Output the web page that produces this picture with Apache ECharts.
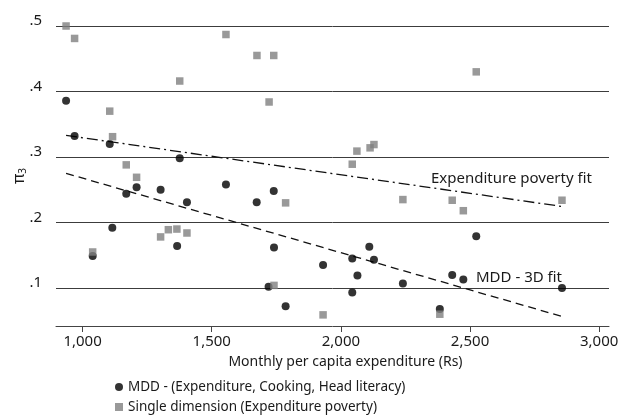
<!DOCTYPE html>
<html>
<head>
<meta charset="utf-8">
<script src="https://cdn.jsdelivr.net/npm/echarts@6/dist/echarts.min.js"></script>
<style>
html, body { margin: 0; padding: 0; background: #fff; }
#chart { width: 618px; height: 416px; }
</style>
</head>
<body>
<div id="chart"></div>
<script>
// MDD - (Expenditure, Cooking, Head literacy): black circles
var mddX = [936, 969, 1039, 1105, 1115, 1169, 1209, 1302, 1366, 1376, 1404, 1555, 1674, 1720, 1740,
            1741, 1786, 1931, 2044, 2044, 2064, 2110, 2128, 2240, 2383, 2431, 2474, 2524, 2856];
var mddY = [0.386, 0.332, 0.149, 0.320, 0.192, 0.244, 0.254, 0.250, 0.164, 0.298, 0.231, 0.258, 0.231, 0.102, 0.248,
            0.162, 0.072, 0.135, 0.145, 0.093, 0.119, 0.163, 0.143, 0.107, 0.068, 0.120, 0.113, 0.179, 0.100];

// Single dimension (Expenditure poverty): grey squares
var singleX = [936, 969, 1039, 1105, 1116, 1169, 1209, 1302, 1332, 1365, 1376, 1404, 1555, 1675, 1722,
               1740, 1741, 1786, 1931, 2044, 2062, 2113, 2128, 2240, 2383, 2431, 2474, 2524, 2856];
var singleY = [0.500, 0.481, 0.155, 0.370, 0.331, 0.288, 0.269, 0.178, 0.189, 0.190, 0.416, 0.184, 0.487, 0.455, 0.384,
               0.455, 0.104, 0.230, 0.059, 0.289, 0.309, 0.314, 0.319, 0.235, 0.060, 0.234, 0.218, 0.430, 0.234];

// fitted lines, end points
var mddFitX = [936, 2856];
var mddFitY = [0.275, 0.0566];
var expFitX = [936, 2856];
var expFitY = [0.333, 0.2245];

var xTicks = [1000, 1500, 2000, 2500, 3000];
var yTicks = [0.1, 0.2, 0.3, 0.4, 0.5];

function pairs(xs, ys) {
    var out = [];
    for (var i = 0; i < xs.length; i++) out.push([xs[i], ys[i]]);
    return out;
}

var FONT = 'Noto Sans';
var INK = '#1a1a1a';

var option = {
    animation: false,
    textStyle: { fontFamily: FONT },
    grid: { left: 56, right: 9, top: 26, bottom: 90, outerBoundsMode: 'none' },
    xAxis: {
        type: 'value',
        min: 897,
        max: 3038,
        name: 'Monthly per capita expenditure (Rs)',
        nameLocation: 'middle',
        nameGap: 29,
        nameMoveOverlap: false,
        nameTextStyle: { fontSize: 14, color: INK, padding: [0, 0, 0, 26] },
        axisLine: { show: true, lineStyle: { color: '#444', width: 1 } },
        axisTick: { show: true, length: 6, lineStyle: { color: '#444' }, customValues: xTicks },
        axisLabel: {
            color: INK, fontSize: 15, margin: 8,
            customValues: xTicks,
            formatter: function (v) { return v.toLocaleString('en-US'); }
        },
        splitLine: { show: false }
    },
    yAxis: {
        type: 'value',
        min: 0.042,
        max: 0.5,
        name: '{p|π}{s|3}',
        nameLocation: 'middle',
        nameRotate: 90,
        nameGap: 28,
        nameMoveOverlap: false,
        nameTextStyle: {
            rich: {
                p: { fontSize: 16, color: INK, fontFamily: FONT },
                s: { fontSize: 10, color: INK, fontFamily: FONT, verticalAlign: 'bottom', padding: [7, 0, 0, 0] }
            }
        },
        axisLine: { show: false },
        axisTick: { show: false, customValues: yTicks },
        axisLabel: {
            color: INK, fontSize: 15, margin: 14,
            customValues: yTicks,
            verticalAlign: 'bottom',
            lineHeight: 10,
            formatter: function (v) { return v.toFixed(1).replace(/^0/, ''); }
        },
        splitLine: { show: true, lineStyle: { color: '#3c3c3c', width: 1 } }
    },
    legend: {
        orient: 'vertical',
        left: 115,
        top: 380,
        padding: 0,
        itemGap: 6,
        itemWidth: 8,
        itemHeight: 8,
        textStyle: { fontSize: 13.5, lineHeight: 14, color: INK },
        data: [
            { name: 'MDD - (Expenditure, Cooking, Head literacy)', icon: 'circle' },
            { name: 'Single dimension (Expenditure poverty)', icon: 'rect' }
        ]
    },
    series: [
        {
            name: 'MDD - 3D fit',
            type: 'line',
            data: pairs(mddFitX, mddFitY),
            symbol: 'none',
            lineStyle: { color: '#111', width: 1.3, type: [8, 5] },
            z: 2
        },
        {
            name: 'Expenditure poverty fit',
            type: 'line',
            data: pairs(expFitX, expFitY),
            symbol: 'none',
            lineStyle: { color: '#111', width: 1.3, type: [11, 4, 2, 4] },
            z: 2
        },
        {
            name: 'MDD - (Expenditure, Cooking, Head literacy)',
            type: 'scatter',
            data: pairs(mddX, mddY),
            symbol: 'circle',
            symbolSize: 8,
            itemStyle: { color: '#000' },
            z: 3
        },
        {
            name: 'Single dimension (Expenditure poverty)',
            type: 'scatter',
            data: pairs(singleX, singleY),
            symbol: 'rect',
            symbolSize: 7.5,
            itemStyle: { color: '#808080' },
            z: 4
        }
    ],
    graphic: [
        {
            type: 'text', left: 431, top: 171,
            style: { text: 'Expenditure poverty fit', fill: INK, font: '15px "Noto Sans"' }
        },
        {
            type: 'text', left: 476, top: 270,
            style: { text: 'MDD - 3D fit', fill: INK, font: '15px "Noto Sans"' }
        }
    ]
};

var myChart = echarts.init(document.getElementById('chart'));
myChart.setOption(option);
</script>
</body>
</html>
